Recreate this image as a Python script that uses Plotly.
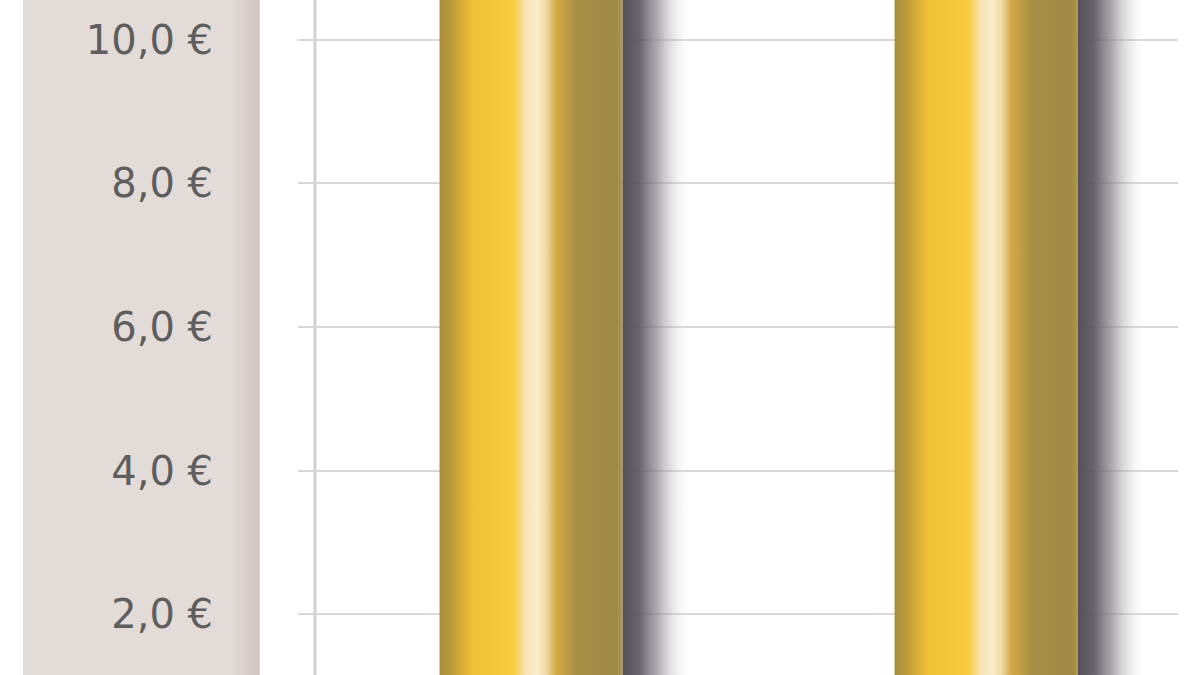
import plotly.graph_objects as go

# Data (bars run past the top of the visible crop)
categories = ["A", "B"]
values = [11.3, 11.6]
tick_vals = [2.0, 4.0, 6.0, 8.0, 10.0]
tick_text = [f"{v:.1f}".replace(".", ",") + " €" for v in tick_vals]

bar_width = 0.402
shadow_width = 0.15

gold_scale = [
    [0.00, "#a68e3e"],
    [0.07, "#c09c3a"],
    [0.18, "#f0c035"],
    [0.40, "#f8ca3c"],
    [0.47, "#f7e2b2"],
    [0.53, "#f9edca"],
    [0.58, "#f0dcaa"],
    [0.64, "#d4a944"],
    [0.75, "#a88f45"],
    [0.97, "#9e8a46"],
    [1.00, "#b09850"],
]
shadow_scale = [
    [0.00, "rgba(84,79,90,1)"],
    [0.25, "rgba(92,87,96,0.92)"],
    [0.50, "rgba(125,120,128,0.65)"],
    [0.75, "rgba(185,181,186,0.32)"],
    [1.00, "rgba(255,255,255,0)"],
]

fig = go.Figure()

for i, (cat, v) in enumerate(zip(categories, values)):
    x0 = i - bar_width / 2
    x1 = i + bar_width / 2
    # drop shadow to the right of the bar
    fig.add_trace(go.Scatter(
        x=[x1, x1 + shadow_width, x1 + shadow_width, x1, x1],
        y=[0, 0, v, v, 0],
        mode="lines", fill="toself", line=dict(width=0),
        fillgradient=dict(type="horizontal", colorscale=shadow_scale),
        hoverinfo="skip", showlegend=False))
    # the gold cylinder-look bar
    fig.add_trace(go.Scatter(
        x=[x0, x1, x1, x0, x0],
        y=[0, 0, v, v, 0],
        mode="lines", fill="toself", line=dict(width=0),
        fillgradient=dict(type="horizontal", colorscale=gold_scale),
        name=cat, hoverinfo="skip", showlegend=False))

# left label panel, fading a little darker towards its right edge
shapes = [dict(type="rect", xref="paper", yref="paper", x0=-0.3125, x1=-0.076,
               y0=0, y1=1, fillcolor="#e3dbd8", line_width=0, layer="below")]
n_strips = 10
for k in range(n_strips):
    t = (k + 1) / n_strips
    r = round(0xe3 + (0xd2 - 0xe3) * t)
    g = round(0xdb + (0xc6 - 0xdb) * t)
    b = round(0xd8 + (0xc3 - 0xd8) * t)
    a = -0.076 + (0.032 / n_strips) * k
    shapes.append(dict(type="rect", xref="paper", yref="paper",
                       x0=a, x1=a + 0.032 / n_strips + 0.0005, y0=0, y1=1,
                       fillcolor=f"rgb({r},{g},{b})", line_width=0, layer="below"))
# vertical axis line
shapes.append(dict(type="line", xref="paper", yref="paper", x0=0.0193, x1=0.0193,
                   y0=0, y1=1, line=dict(color="#d2d2d2", width=3), layer="below"))

fig.update_layout(
    width=1200, height=675,
    margin=dict(l=298, r=22, t=0, b=0),
    paper_bgcolor="white", plot_bgcolor="white",
    font=dict(family="DejaVu Sans", size=40, color="#5e5e5e"),
    shapes=shapes,
    xaxis=dict(range=[-0.5121, 1.4220], showgrid=False, zeroline=False,
               showticklabels=False, fixedrange=True),
    yaxis=dict(range=[1.15, 10.557], tickmode="array", tickvals=tick_vals,
               ticktext=tick_text, showgrid=True, gridcolor="#d8d8d8", gridwidth=2,
               zeroline=False, showline=False, ticks="", ticklabelstandoff=84,
               fixedrange=True),
)

fig.write_html("out.html", config={"displayModeBar": False},
               post_script="document.body.style.margin='0';")
